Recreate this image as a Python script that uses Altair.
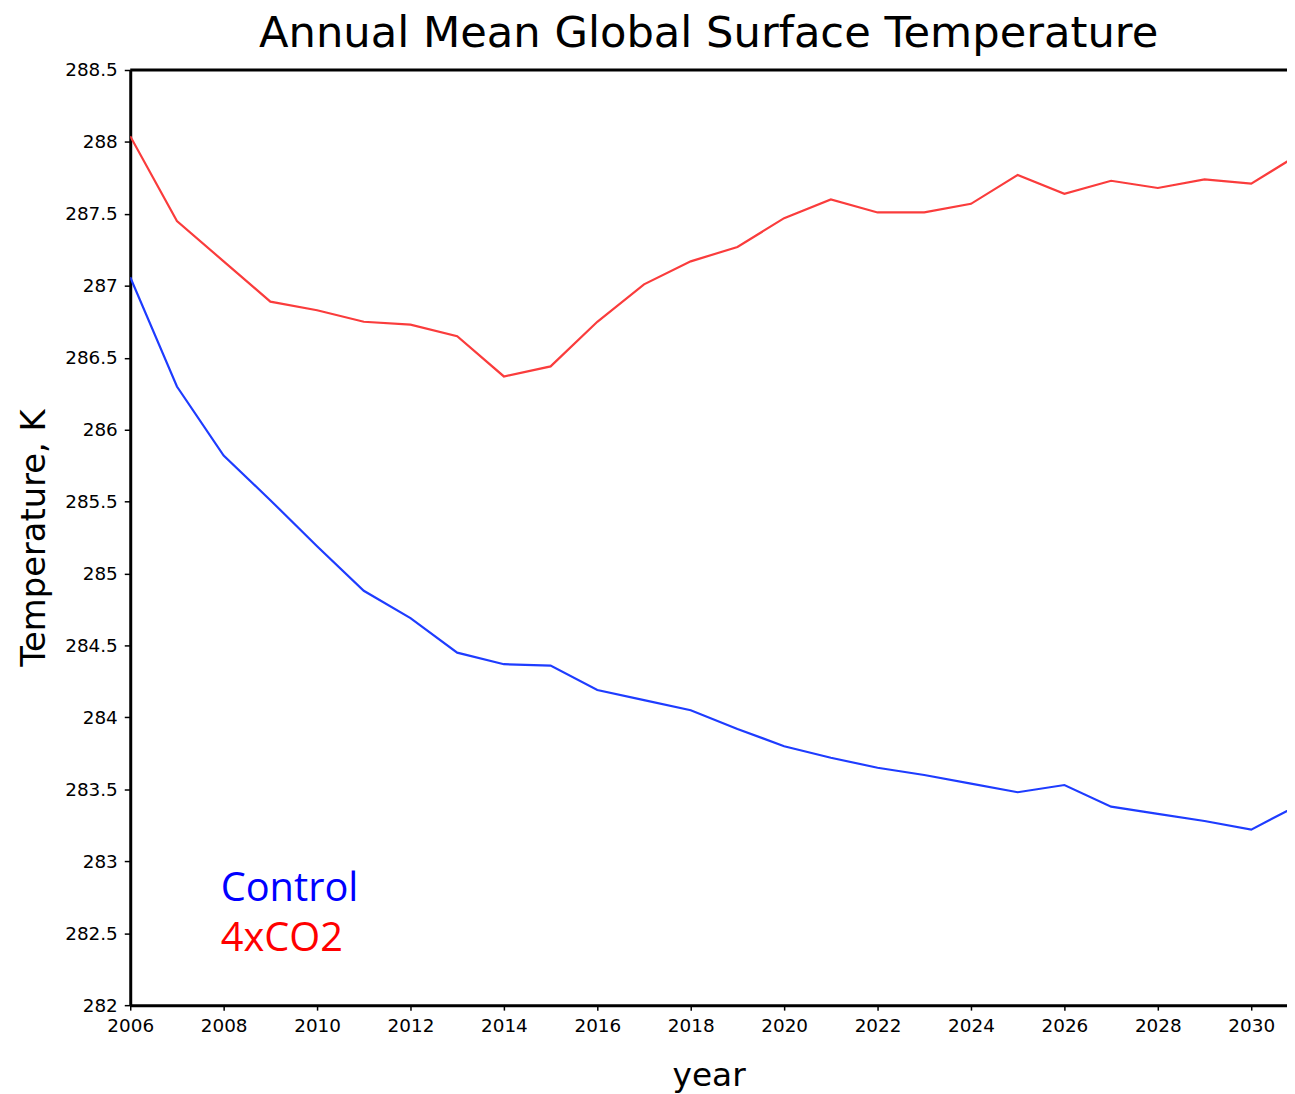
import altair as alt
import pandas as pd

years = list(range(2006, 2032))
control = [287.06, 286.30, 285.82, 285.51, 285.19, 284.88, 284.69, 284.45, 284.37, 284.36,
           284.19, 284.12, 284.05, 283.92, 283.80, 283.72, 283.65, 283.60, 283.54, 283.48,
           283.53, 283.38, 283.33, 283.28, 283.22, 283.39]
co2x4 = [288.04, 287.45, 287.17, 286.89, 286.83, 286.75, 286.73, 286.65, 286.37, 286.44,
         286.75, 287.01, 287.17, 287.27, 287.47, 287.60, 287.51, 287.51, 287.57, 287.77,
         287.64, 287.73, 287.68, 287.74, 287.71, 287.91]
series_names = ["Control", "4xCO2"]
line_colors = ["#1e3cff", "#fa3c3c"]
label_colors = ["#0000ff", "#ff0000"]
x_ticks = list(range(2006, 2031, 2))
y_ticks = [282 + 0.5 * i for i in range(14)]

W, H = 1164, 941
x_max = 2006 + W / 47.0

df = pd.DataFrame({
    "year": years * 2,
    "temp": control + co2x4,
    "series": [series_names[0]] * len(years) + [series_names[1]] * len(years),
})

x_scale = alt.Scale(domain=[2006, x_max], nice=False, zero=False)
y_scale = alt.Scale(domain=[282, 288.5], nice=False, zero=False)

lines = alt.Chart(df).mark_line(clip=True, strokeWidth=2.2).encode(
    x=alt.X("year:Q", scale=x_scale,
            axis=alt.Axis(values=x_ticks, format="d", title="year",
                          titleY=81, titleBaseline="alphabetic", titleFontSize=33,
                          titleFontWeight="normal", titleFont="DejaVu Sans",
                          tickSize=5, labelPadding=7, grid=False)),
    y=alt.Y("temp:Q", scale=y_scale,
            axis=alt.Axis(values=y_ticks, format="~g", title="Temperature, K",
                          titleX=-86, titleY=H / 2, titleAngle=270, titleAlign="center",
                          titleBaseline="alphabetic", titleFontSize=34,
                          titleFontWeight="normal", titleFont="DejaVu Sans",
                          tickSize=6, labelPadding=7, grid=False)),
    color=alt.Color("series:N", scale=alt.Scale(domain=series_names, range=line_colors), legend=None),
)

top_border = alt.Chart(pd.DataFrame({"v": [0]})).mark_rule(color="black", strokeWidth=3).encode(
    y=alt.datum(288.5)
)

legend_texts = []
for i, (name, col) in enumerate(zip(series_names, label_colors)):
    legend_texts.append(
        alt.Chart(pd.DataFrame({"label": [name]})).mark_text(
            align="left", baseline="alphabetic", font="Open Sans", fontSize=40, color=col
        ).encode(x=alt.value(91), y=alt.value(836 + 50 * i), text="label:N")
    )

chart = alt.layer(lines, top_border, *legend_texts).properties(
    width=W, height=H,
    autosize=alt.AutoSizeParams(type="none"),
    padding={"left": 123, "top": 59, "right": 0, "bottom": 86},
    background="white",
    title=alt.TitleParams("Annual Mean Global Surface Temperature", font="DejaVu Sans",
                          fontSize=43.5, fontWeight="normal", baseline="alphabetic",
                          offset=12, dy=41, anchor="middle", frame="group", color="black"),
).configure_view(stroke=None).configure_axis(
    domainColor="black", domainWidth=3, tickColor="black", tickWidth=1.5,
    labelFont="DejaVu Sans", labelFontSize=18.5, labelColor="black",
    labelFlush=False, labelOverlap=False, titleColor="black"
)

chart.save("out.html", embed_options={"renderer": "svg", "actions": False})
